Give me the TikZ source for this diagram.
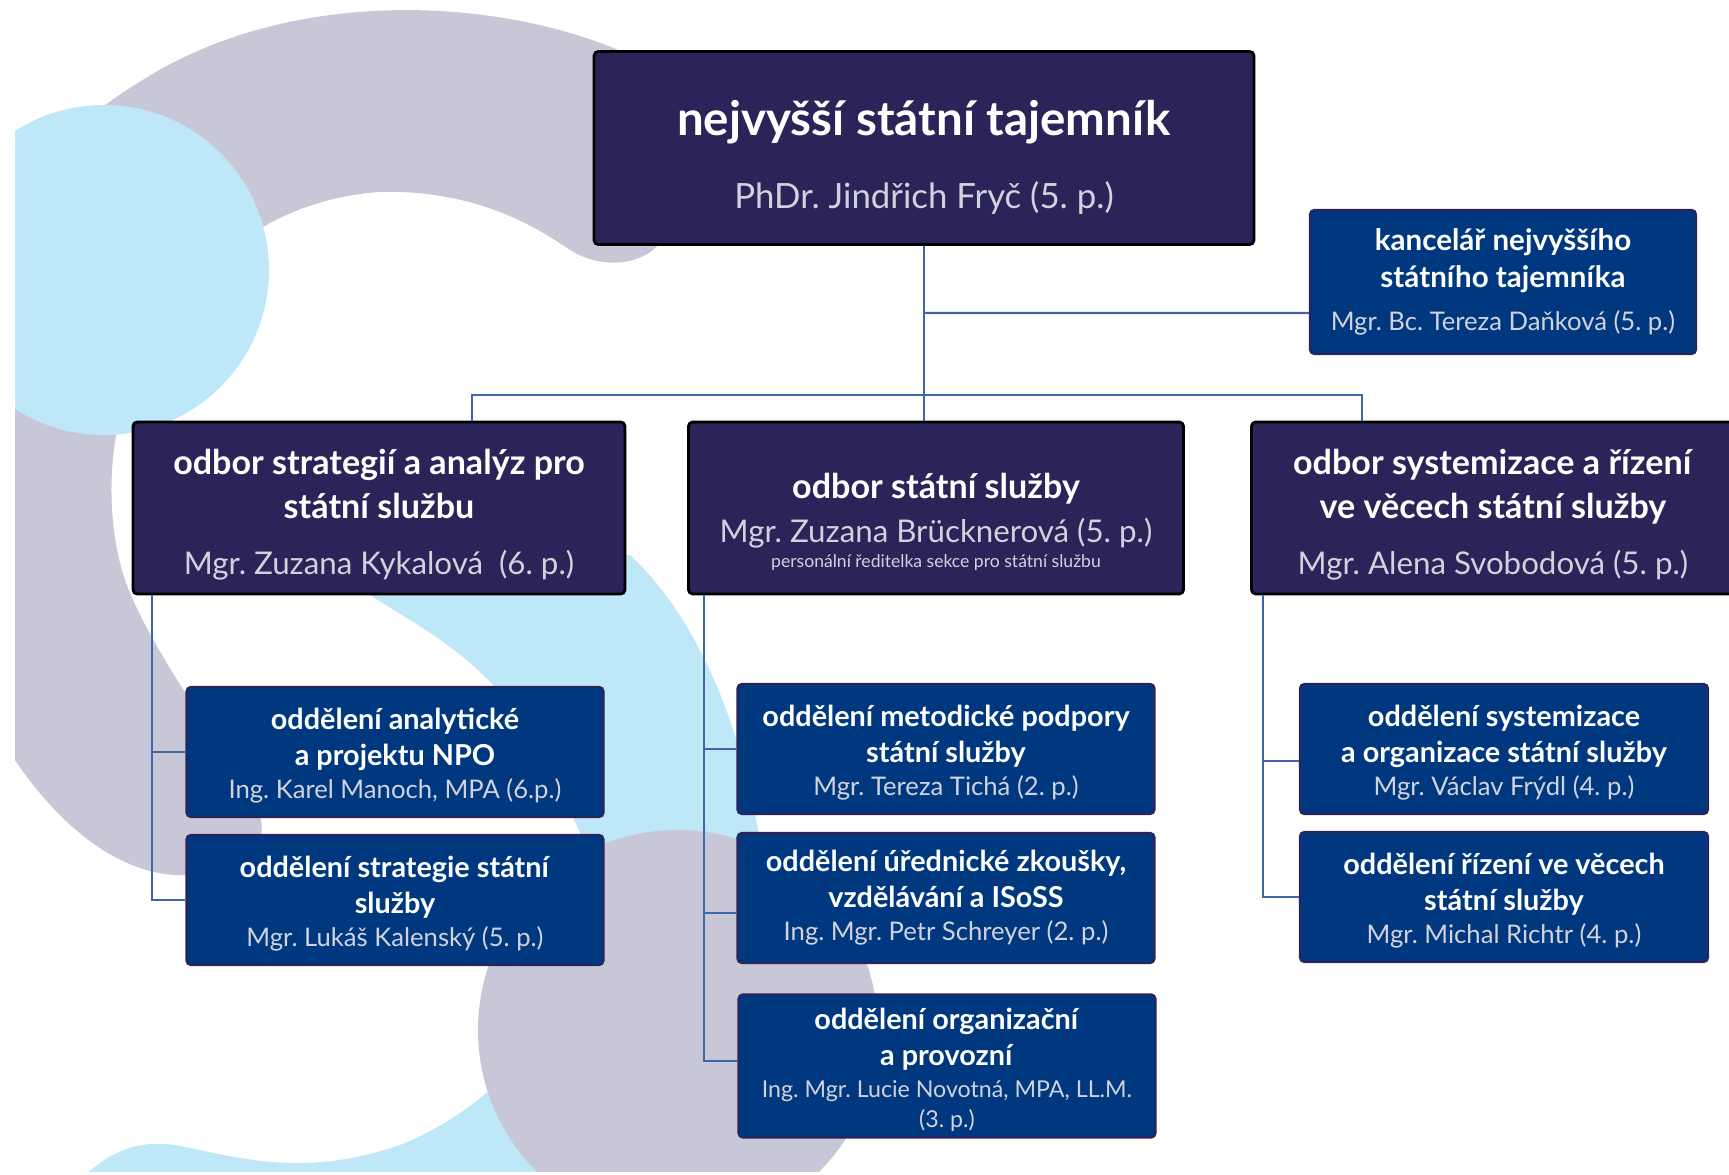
\documentclass[tikz,border=0pt]{standalone}
\usepackage{fontspec}
\setmainfont{Lato}
\definecolor{navy}{HTML}{2A2459}
\definecolor{deptblue}{HTML}{00387F}
\definecolor{namegrey}{HTML}{D2D2DC}
\definecolor{linkblue}{HTML}{3D67AA}
\definecolor{bggrey}{HTML}{C8C7D7}
\definecolor{bgblue}{HTML}{BEE7F7}
\newcommand{\nm}[2]{{\fontsize{#1}{10}\selectfont\color{namegrey}#2}}
\newcommand{\tgap}[1]{\rule{0pt}{#1}}
\frenchspacing

\begin{document}
\begin{tikzpicture}[x=0.1mm,y=-0.1mm]
  \tikzstyle{boss}=[rectangle,rounded corners=1.2pt,draw=black,line width=0.8pt,fill=navy,text=white,align=center,inner sep=0pt]
  \tikzstyle{dept}=[rectangle,rounded corners=1.2pt,draw=navy,line width=0.6pt,fill=deptblue,text=white,align=center,inner sep=0pt]
  \tikzstyle{link}=[draw=linkblue,line width=0.6pt]
  \useasboundingbox (0,0) rectangle (1729,1175);

  \begin{scope}
    \clip (15,0) rectangle (1729,1172);
    \fill[bggrey] (640,60) .. controls (520,0) and (300,-20) .. (141,81)
      .. controls (60,130) and (0,200) .. (-20,300) -- (-20,700)
      .. controls (40,820) and (120,880) .. (190,875)
      .. controls (250,870) and (275,840) .. (255,805)
      .. controls (220,740) and (150,650) .. (125,580)
      .. controls (105,520) and (105,430) .. (140,360)
      .. controls (180,280) and (260,200) .. (380,192)
      .. controls (460,190) and (520,215) .. (570,250)
      .. controls (610,275) and (660,260) .. (665,230) -- cycle;
    \fill[bgblue] (104,270) circle (165);
    \fill[bgblue] (320,560) .. controls (380,610) and (470,640) .. (520,720)
      .. controls (555,775) and (580,830) .. (600,880)
      -- (765,880) .. controls (750,740) and (700,620) .. (630,555) -- cycle;
    \fill[bgblue] (80,1180) .. controls (110,1150) and (140,1140) .. (175,1145)
      .. controls (230,1155) and (300,1180) .. (400,1145)
      .. controls (450,1125) and (490,1095) .. (530,1050) -- (700,1050) -- (700,1180) -- cycle;
    \fill[bggrey] (678,1030) circle (200);
  \end{scope}

  \node [boss,minimum width=66mm,minimum height=19.3mm,font=\fontsize{10}{20.8}\selectfont] (NST) at (924,148)
    {{\fontsize{13.5}{16}\selectfont\bfseries\tgap{15.5pt}nejvyšší státní tajemník}\\\nm{9.9}{PhDr. Jindřich Fryč (5. p.)}};
  \node [dept,minimum width=38.6mm,minimum height=14.4mm,font=\fontsize{8.4}{10.5}\selectfont] (KAN) at (1503,282)
    {\textbf{kancelář nejvyššího}\\\textbf{státního tajemníka}\\[1.7pt]\nm{7.3}{Mgr. Bc. Tereza Daňková (5. p.)}};

  \node [boss,minimum width=49.2mm,minimum height=17.2mm,font=\fontsize{9.7}{12.5}\selectfont] (OSA) at (379,508)
    {\textbf{\tgap{11pt}odbor strategií a analýz pro}\\\textbf{státní službu}\\[3.4pt]\nm{8.9}{Mgr. Zuzana Kykalová\ \ (6. p.)}};
  \node [boss,minimum width=49.5mm,minimum height=17.2mm,font=\fontsize{9.7}{12.5}\selectfont] (OSS) at (936,508)
    {\textbf{\tgap{15pt}odbor státní služby}\\\nm{8.9}{Mgr. Zuzana Brücknerová (5. p.)}\\[-5.5pt]\nm{5}{personální ředitelka sekce pro státní službu}};
  \node [boss,minimum width=48.3mm,minimum height=17.2mm,font=\fontsize{9.7}{12.5}\selectfont] (OSR) at (1493,508)
    {\textbf{\tgap{11pt}odbor systemizace a řízení}\\\textbf{ve věcech státní služby}\\[3.4pt]\nm{8.9}{Mgr. Alena Svobodová (5. p.)}};

  \tikzstyle{sub}=[dept,minimum width=41.7mm,minimum height=13mm,font=\fontsize{8.2}{10.2}\selectfont]
  \node [sub] (ANA) at (395,752)
    {\textbf{\tgap{8.4pt}oddělení analytické}\\\textbf{a projektu NPO}\\[-0.8pt]\nm{7.3}{Ing. Karel Manoch, MPA (6.p.)}};
  \node [sub] (STR) at (395,900)
    {\textbf{\tgap{8.4pt}oddělení strategie státní}\\\textbf{služby}\\[-0.8pt]\nm{7.3}{Mgr. Lukáš Kalenský (5. p.)}};
  \node [sub] (MET) at (946,749)
    {\textbf{\tgap{8.4pt}oddělení metodické podpory}\\\textbf{státní služby}\\[-0.8pt]\nm{7.3}{Mgr. Tereza Tichá (2. p.)}};
  \node [sub] (URZ) at (946,898)
    {\textbf{oddělení úřednické zkoušky,}\\\textbf{vzdělávání a ISoSS}\\[-0.8pt]\nm{7.3}{Ing. Mgr. Petr Schreyer (2. p.)}};
  \node [sub,minimum height=14.3mm] (ORG) at (947,1066)
    {\textbf{\tgap{8.4pt}oddělení organizační}\\\textbf{a provozní}\\[-1pt]\nm{6.6}{Ing. Mgr. Lucie Novotná, MPA, LL.M.}\\[-1.6pt]\nm{6.6}{(3. p.)}};
  \node [sub,minimum width=40.8mm] (SYS) at (1504,749)
    {\textbf{\tgap{8.4pt}oddělení systemizace}\\\textbf{a organizace státní služby}\\[-0.8pt]\nm{7.3}{Mgr. Václav Frýdl (4. p.)}};
  \node [sub,minimum width=40.8mm] (RIZ) at (1504,897)
    {\textbf{\tgap{8.4pt}oddělení řízení ve věcech}\\\textbf{státní služby}\\[-0.8pt]\nm{7.3}{Mgr. Michal Richtr (4. p.)}};

  \coordinate (busL) at (472,395);
  \coordinate (busR) at (1362,395);
  \draw [link] (NST.south) -- (NST.south |- OSS.north);
  \draw [link] (NST.south |- 0,313) -- ([yshift=-3.1mm]KAN.west);
  \draw [link] (busL |- OSA.north) -- (busL) -- (busR) -- (busR |- OSR.north);
  \coordinate (la) at ([xshift=2mm]OSA.south west);
  \coordinate (ma) at ([xshift=1.7mm]OSS.south west);
  \coordinate (ra) at ([xshift=1.3mm]OSR.south west);
  \draw [link] (la) |- (ANA.west)
        (la) |- (STR.west);
  \draw [link] (ma) |- (MET.west)
        (ma) |- ([yshift=-1.5mm]URZ.west)
        (ma) |- ([yshift=0.5mm]ORG.west);
  \draw [link] (ra) |- ([yshift=-1.2mm]SYS.west)
        (ra) |- (RIZ.west);
\end{tikzpicture}
\end{document}
